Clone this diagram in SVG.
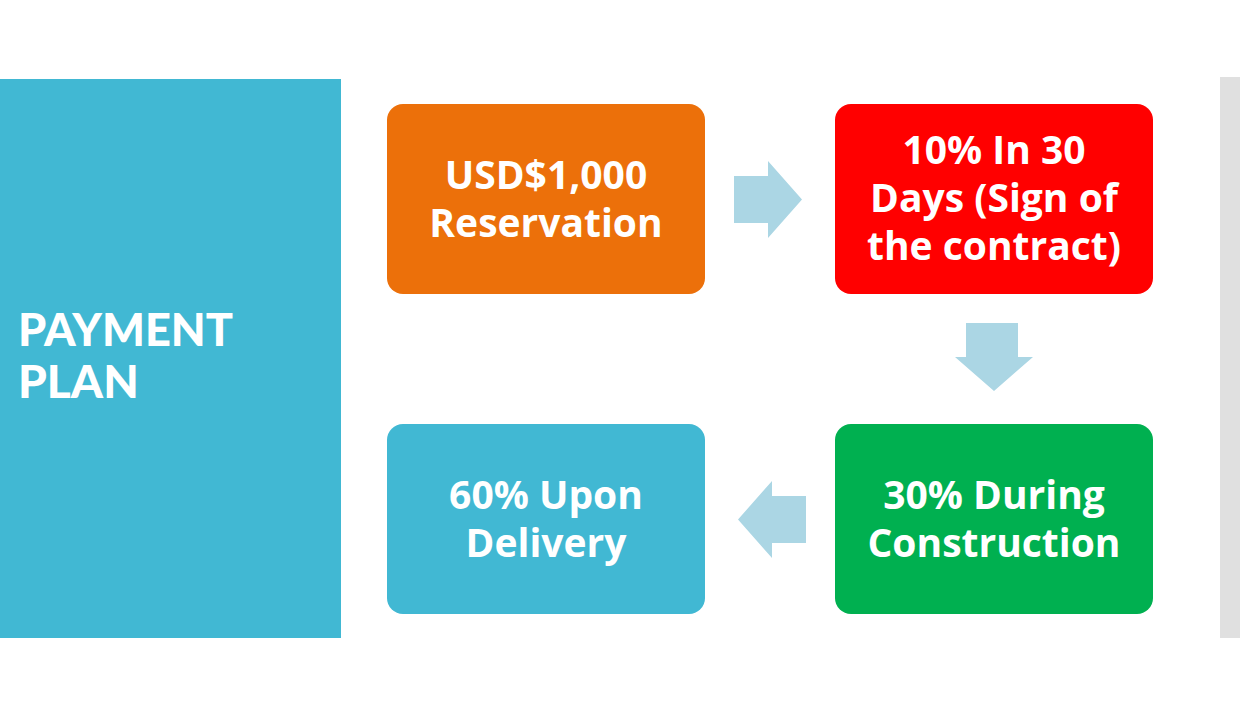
<svg xmlns="http://www.w3.org/2000/svg" width="1240" height="720" viewBox="0 0 1240 720">
<style>
.box{stroke:none}
.t{font-family:"Open Sans","Liberation Sans",sans-serif;font-weight:bold;font-size:39px;fill:#fff;text-anchor:middle}
.title{font-family:Lato,"Liberation Sans",sans-serif;font-weight:900;font-size:46px;fill:#fff}
.arr{fill:#ABD6E4}
</style>
<rect width="1240" height="720" fill="#fff"/>
<g id="panel">
<rect x="0" y="79" width="341" height="559" fill="#41B8D3"/>
<text class="title" x="18" y="346" textLength="215" lengthAdjust="spacingAndGlyphs">PAYMENT</text>
<text class="title" x="18" y="398">PLAN</text>
</g>
<rect id="sidebar" x="1220" y="77" width="20" height="561" fill="#E0E0E0"/>
<g id="connectors">
<polygon class="arr" points="734,176 768,176 768,161 802,199.5 768,238 768,223 734,223"/>
<polygon class="arr" points="966,323 1018,323 1018,357 1033,357 994,391 955,357 966,357"/>
<polygon class="arr" points="806,496 772,496 772,481 738,519.5 772,558 772,543 806,543"/>
</g>
<g id="n1">
<rect class="box" x="387" y="104" width="318" height="190" rx="16" fill="#EC700A"/>
<text class="t" x="546" y="189">USD$1,000</text>
<text class="t" x="546" y="237">Reservation</text>
</g>
<g id="n2">
<rect class="box" x="835" y="104" width="318" height="190" rx="16" fill="#FF0000"/>
<text class="t" x="994" y="164">10% In 30</text>
<text class="t" x="994" y="212">Days (Sign of</text>
<text class="t" x="994" y="260">the contract)</text>
</g>
<g id="n3">
<rect class="box" x="835" y="424" width="318" height="190" rx="16" fill="#00B050"/>
<text class="t" x="994" y="509">30% During</text>
<text class="t" x="994" y="557">Construction</text>
</g>
<g id="n4">
<rect class="box" x="387" y="424" width="318" height="190" rx="16" fill="#41B8D3"/>
<text class="t" x="546" y="509">60% Upon</text>
<text class="t" x="546" y="557">Delivery</text>
</g>
</svg>
